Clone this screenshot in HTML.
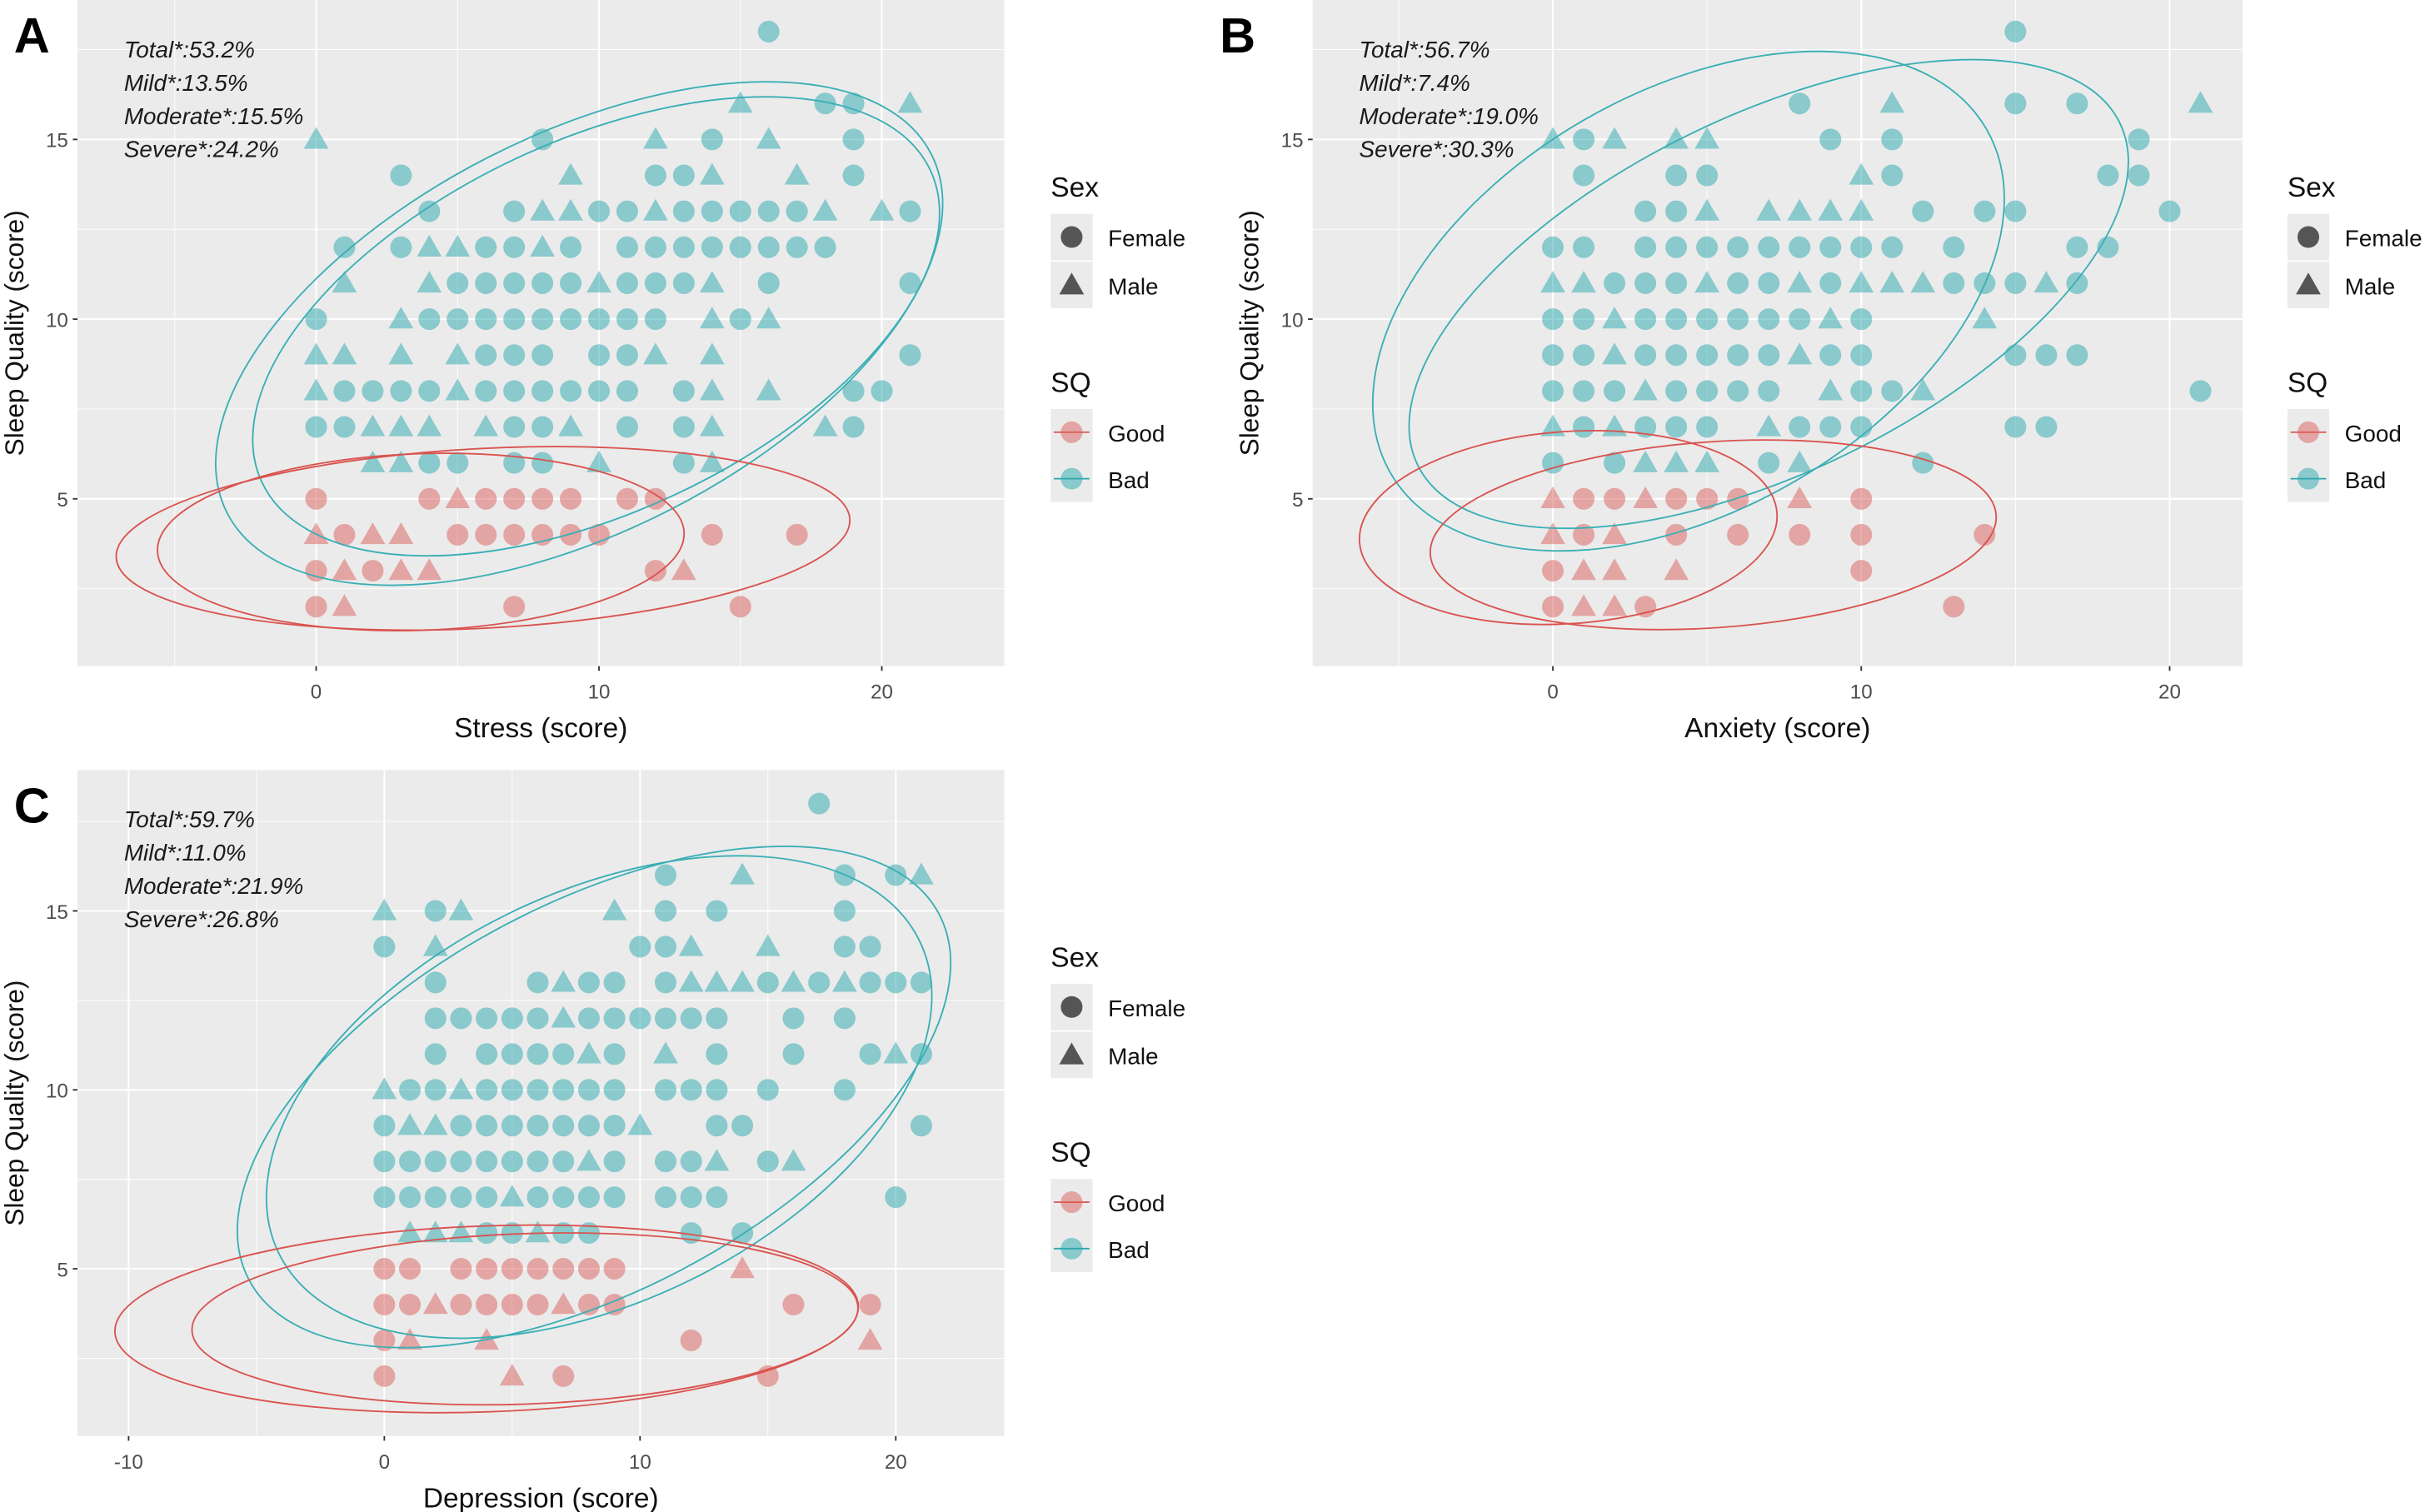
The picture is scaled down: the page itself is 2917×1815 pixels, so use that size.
<!DOCTYPE html>
<html><head><meta charset="utf-8"><style>
html,body{margin:0;padding:0;background:#fff}
svg{display:block}
text{font-family:"Liberation Sans",Arial,sans-serif}
</style></head><body>
<svg id="root" width="2917" height="1815" viewBox="0 0 1568 976" preserveAspectRatio="none" xmlns="http://www.w3.org/2000/svg"></svg>
<script>
// ---------- data ----------
const panelLetters = ["A","B","C"];
const xTitles = ["Stress (score)","Anxiety (score)","Depression (score)"];
const annotA = ["Total*:53.2%","Mild*:13.5%","Moderate*:15.5%","Severe*:24.2%"];
const annotB = ["Total*:56.7%","Mild*:7.4%","Moderate*:19.0%","Severe*:30.3%"];
const annotC = ["Total*:59.7%","Mild*:11.0%","Moderate*:21.9%","Severe*:26.8%"];
const xTicksAB = [0,10,20];
const xTicksC = [-10,0,10,20];
const yTicks = [5,10,15];
// rows: sleep quality score -> list of "x" + sex (c=female, t=male)
const pointsA = {
18:"16c",16:"15t 18c 19c 21t",15:"0t 8c 12t 14c 16t 19c",14:"3c 9t 12c 13c 14t 17t 19c",
13:"4c 7c 8t 9t 10c 11c 12t 13c 14c 15c 16c 17c 18t 20t 21c",
12:"1c 3c 4t 5t 6c 7c 8t 9c 11c 12c 13c 14c 15c 16c 17c 18c",
11:"1t 4t 5c 6c 7c 8c 9c 10t 11c 12c 13c 14t 16c 21c",
10:"0c 3t 4c 5c 6c 7c 8c 9c 10c 11c 12c 14t 15c 16t",
9:"0t 1t 3t 5t 6c 7c 8c 10c 11c 12t 14t 21c",
8:"0t 1c 2c 3c 4c 5t 6c 7c 8c 9c 10c 11c 13c 14t 16t 19c 20c",
7:"0c 1c 2t 3t 4t 6t 7c 8c 9t 11c 13c 14t 18t 19c",
6:"2t 3t 4c 5c 7c 8c 10t 13c 14t",
5:"0c 4c 5t 6c 7c 8c 9c 11c 12c",
4:"0t 1c 2t 3t 5c 6c 7c 8c 9c 10c 14c 17c",
3:"0c 1t 2c 3t 4t 12c 13t",
2:"0c 1t 7c 15c"};
const pointsB = {
18:"15c",16:"8c 11t 15c 17c 21t",15:"0t 1c 2t 4t 5t 9c 11c 19c",14:"1c 4c 5c 10t 11c 18c 19c",
13:"3c 4c 5t 7t 8t 9t 10t 12c 14c 15c 20c",
12:"0c 1c 3c 4c 5c 6c 7c 8c 9c 10c 11c 13c 17c 18c",
11:"0t 1t 2c 3c 4c 5t 6c 7c 8t 9c 10t 11t 12t 13c 14c 15c 16t 17c",
10:"0c 1c 2t 3c 4c 5c 6c 7c 8c 9t 10c 14t",
9:"0c 1c 2t 3c 4c 5c 6c 7c 8t 9c 10c 15c 16c 17c",
8:"0c 1c 2c 3t 4c 5c 6c 7c 9t 10c 11c 12t 21c",
7:"0t 1c 2t 3c 4c 5c 7t 8c 9c 10c 15c 16c",
6:"0c 2c 3t 4t 5t 7c 8t 12c",
5:"0t 1c 2c 3t 4c 5c 6c 8t 10c",
4:"0t 1c 2t 4c 6c 8c 10c 14c",
3:"0c 1t 2t 4t 10c",
2:"0c 1t 2t 3c 13c"};
const pointsC = {
18:"17c",16:"11c 14t 18c 20c 21t",15:"0t 2c 3t 9t 11c 13c 18c",14:"0c 2t 10c 11c 12t 15t 18c 19c",
13:"2c 6c 7t 8c 9c 11c 12t 13t 14t 15c 16t 17c 18t 19c 20c 21c",
12:"2c 3c 4c 5c 6c 7t 8c 9c 10c 11c 12c 13c 16c 18c",
11:"2c 4c 5c 6c 7c 8t 9c 11t 13c 16c 19c 20t 21c",
10:"0t 1c 2c 3t 4c 5c 6c 7c 8c 9c 11c 12c 13c 15c 18c",
9:"0c 1t 2t 3c 4c 5c 6c 7c 8c 9c 10t 13c 14c 21c",
8:"0c 1c 2c 3c 4c 5c 6c 7c 8t 9c 11c 12c 13t 15c 16t",
7:"0c 1c 2c 3c 4c 5t 6c 7c 8c 9c 11c 12c 13c 20c",
6:"1t 2t 3t 4c 5c 6t 7c 8c 12c 14c",
5:"0c 1c 3c 4c 5c 6c 7c 8c 9c 14t",
4:"0c 1c 2t 3c 4c 5c 6c 7t 8c 9c 16c 19c",
3:"0c 1t 4t 12c 19t",
2:"0c 5t 7c 15c"};
// ellipses: [cx, cy (data units), rx, ry (px), angle deg, group]
const ellA = [[9.3,9.6,255,128,-27,"bad"],[9.9,9.8,238,120,-25,"bad"],[5.9,3.9,237,58,-3,"good"],[3.7,3.8,170,57,-2,"good"]];
const ellB = [[4.4,10.5,222,135,-30,"bad"],[7.0,10.7,252,115,-26,"bad"],[5.2,4.0,183,60,-4,"good"],[0.5,4.2,135,62,-4,"good"]];
const ellC = [[8.2,9.8,252,125,-28,"bad"],[8.4,9.8,230,132,-26,"bad"],[4.0,3.6,240,60,-2,"good"],[5.5,3.6,215,55,-2,"good"]];

// ---------- drawing ----------
const NS="http://www.w3.org/2000/svg";
const root=document.getElementById('root');
function mk(tag,attrs,parent){const e=document.createElementNS(NS,tag);for(const k in attrs)e.setAttribute(k,attrs[k]);(parent||root).appendChild(e);return e;}
const RED="#D9605B",TEAL="#2AA8AE";

function panel(cfg){
  const g=mk('g',{});
  
  
  const {x0,x1,y0,y1}=cfg.box;
  const sx=v=>cfg.xa+(v-cfg.xv0)*cfg.xs;
  const sy=v=>cfg.ya-(v-5)*cfg.ys;
  const bg=mk('rect',{x:x0,y:y0,width:x1-x0,height:y1-y0,fill:"#EBEBEB"},g);
  
  for(let v=cfg.xmin;v<=cfg.xmax;v+=5){const X=sx(v);if(X>x0&&X<x1)mk('line',{x1:X,x2:X,y1:y0,y2:y1,stroke:"#fff","stroke-width":v%10===0?1.1:0.5},g);}
  for(let v=0;v<=20;v+=2.5){const Y=sy(v);if(Y>y0&&Y<y1)mk('line',{x1:x0,x2:x1,y1:Y,y2:Y,stroke:"#fff","stroke-width":v%5===0?1.1:0.5},g);}
  cfg.xt.forEach(v=>{const X=sx(v);mk('line',{x1:X,x2:X,y1:y1,y2:y1+3,stroke:"#333"},g);
    const t=mk('text',{x:X,y:y1+21,"text-anchor":"middle","font-size":13,fill:"#4D4D4D"},g);t.textContent=v;
    });
  yTicks.forEach(v=>{const Y=sy(v);mk('line',{x1:x0-3,x2:x0,y1:Y,y2:Y,stroke:"#333"},g);
    const t=mk('text',{x:x0-6,y:Y+5,"text-anchor":"end","font-size":13,fill:"#4D4D4D"},g);t.textContent=v;
    });
  Object.keys(cfg.pts).forEach(k=>{const yv=+k;cfg.pts[k].split(' ').forEach(s=>{
    const xv=parseFloat(s),sex=s.slice(-1);const col=yv<=5?RED:TEAL;const X=sx(xv),Y=sy(yv);
    let e;
    if(sex==='c') e=mk('circle',{cx:X,cy:Y,r:7,fill:col,"fill-opacity":0.5},g);
    else e=mk('polygon',{points:`${X},${Y-8} ${X-8},${Y+6} ${X+8},${Y+6}`,fill:col,"fill-opacity":0.5},g);
    
    
  });});
  cfg.ell.forEach(el=>{const X=sx(el[0]),Y=sy(el[1]);
    const e=mk('ellipse',{cx:X,cy:Y,rx:el[2],ry:el[3],transform:`rotate(${el[4]} ${X} ${Y})`,fill:"none",stroke:el[5]==="bad"?"#3AAFB5":"#D9534F","stroke-width":1},g);
    });
  cfg.ann.forEach((s,i)=>{const t=mk('text',{x:x0+30,y:y0+37+i*21.5,"font-size":15,"font-style":"italic",fill:"#1a1a1a"},g);t.textContent=s;
    });
  const L=mk('text',{x:cfg.lx,y:y0+34,"font-size":32,"font-weight":"bold",fill:"#000"},g);L.textContent=cfg.letter;
  
  const xt=mk('text',{x:(x0+x1)/2,y:y1+46,"text-anchor":"middle","font-size":18,fill:"#111"},g);xt.textContent=cfg.xtitle;
  
  const ycx=cfg.ytx,ycy=(y0+y1)/2;
  const yt=mk('text',{x:ycx,y:ycy,"text-anchor":"middle","font-size":17,fill:"#111",transform:`rotate(-90 ${ycx} ${ycy})`},g);yt.textContent="Sleep Quality (score)";
  
  const lx=cfg.legx,ly=y0;
  const lg=mk('g',{},g);
  const t1=mk('text',{x:lx,y:ly+127,"font-size":18,fill:"#111"},lg);t1.textContent="Sex";
  [["Female","c"],["Male","t"]].forEach((it,i)=>{const Y=ly+153+i*31;
    mk('rect',{x:lx,y:Y-15,width:27,height:30,fill:"#EBEBEB"},lg);
    if(it[1]==='c')mk('circle',{cx:lx+13.5,cy:Y,r:7,fill:"#555"},lg);
    else mk('polygon',{points:`${lx+13.5},${Y-8} ${lx+5.5},${Y+6} ${lx+21.5},${Y+6}`,fill:"#555"},lg);
    const t=mk('text',{x:lx+37,y:Y+6,"font-size":15,fill:"#111"},lg);t.textContent=it[0];
    });
  const t2=mk('text',{x:lx,y:ly+253,"font-size":18,fill:"#111"},lg);t2.textContent="SQ";
  [["Good",RED],["Bad",TEAL]].forEach((it,i)=>{const Y=ly+279+i*30;
    mk('rect',{x:lx,y:Y-15,width:27,height:30,fill:"#EBEBEB"},lg);
    mk('line',{x1:lx+2,x2:lx+25,y1:Y,y2:Y,stroke:it[1]},lg);
    mk('circle',{cx:lx+13.5,cy:Y,r:7,fill:it[1],"fill-opacity":0.5},lg);
    const t=mk('text',{x:lx+37,y:Y+6,"font-size":15,fill:"#111"},lg);t.textContent=it[0];
    });
}
panel({letter:"A",box:{x0:50,x1:648,y0:0,y1:430},xa:204,xv0:0,xs:18.25,ya:322,ys:23.2,xmin:-5,xmax:25,xt:xTicksAB,pts:pointsA,ell:ellA,ann:annotA,xtitle:xTitles[0],ytx:15,legx:678,lx:9});
panel({letter:"B",box:{x0:847,x1:1447,y0:0,y1:430},xa:1002,xv0:0,xs:19.9,ya:322,ys:23.2,xmin:-5,xmax:25,xt:xTicksAB,pts:pointsB,ell:ellB,ann:annotB,xtitle:xTitles[1],ytx:812,legx:1476,lx:787});
panel({letter:"C",box:{x0:50,x1:648,y0:497,y1:927},xa:248,xv0:0,xs:16.5,ya:819,ys:23.1,xmin:-15,xmax:25,xt:xTicksC,pts:pointsC,ell:ellC,ann:annotC,xtitle:xTitles[2],ytx:15,legx:678,lx:9});
</script>
</body></html>
